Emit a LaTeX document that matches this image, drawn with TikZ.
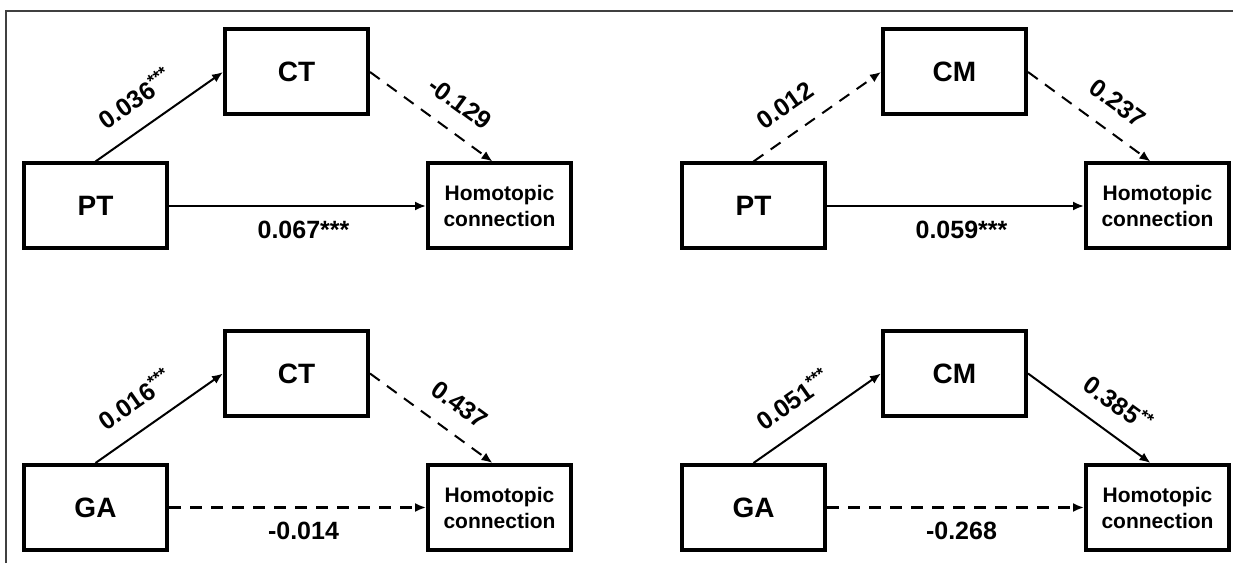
\documentclass[tikz,border=0pt]{standalone}
\usepackage{fontspec}
\setmainfont{Liberation Sans}
\usetikzlibrary{positioning}
\usetikzlibrary{arrows.meta}
\tikzset{basic/.style={draw,line width=2pt,minimum width=71.5pt,minimum height=42.5pt,inner sep=0pt,font=\fontsize{14}{16}\selectfont\bfseries}}
\tikzset{outcome/.style={basic,align=center,font=\fontsize{10.5}{13}\selectfont\bfseries}}
\tikzset{effect/.style={draw,line width=1pt,-{Latex[length=5.5pt,width=4.5pt]}}}
\tikzset{weakeffect/.style={effect,dash pattern=on 6pt off 4.5pt}}
\tikzset{coef/.style={font=\fontsize{12.5}{14}\selectfont\bfseries,inner sep=2pt}}

\begin{document}
\begin{tikzpicture}[x=0.5pt,y=0.5pt]
        \useasboundingbox (0,0) rectangle (1233,563);
        \draw[black!75,line width=0.6pt] (6,0) -- (6,552) -- (1233,552);
        % PT -> CT
        \node[basic] (pt1) at (95.5,357) {PT};
        \node[basic,above right=22.5pt and 27pt of pt1] (ct1) {CT};
        \node[outcome,right=128.5pt of pt1] (hc1) {Homotopic\\connection};
            \path[effect] (pt1.north) -- (ct1.west) node[coef,sloped,pos=0.14,above=7pt,anchor=south west] {0.036\textsuperscript{***}};
            \path[weakeffect] (ct1.east) -- ([xshift=-3.5pt]hc1.north) node[coef,sloped,pos=0.6,above=7pt] {-0.129};
            \path[effect] (pt1) -- (hc1) node[coef,midway,below=5pt,xshift=3pt] {0.067***};
        % PT -> CM
        \node[basic] (pt2) at (753.5,357) {PT};
        \node[basic,above right=22.5pt and 27pt of pt2] (cm2) {CM};
        \node[outcome,right=128.5pt of pt2] (hc2) {Homotopic\\connection};
            \path[weakeffect] (pt2.north) -- (cm2.west) node[coef,sloped,pos=0.14,above=7pt,anchor=south west] {0.012};
            \path[weakeffect] (cm2.east) -- ([xshift=-3.5pt]hc2.north) node[coef,sloped,pos=0.6,above=7pt] {0.237};
            \path[effect] (pt2) -- (hc2) node[coef,midway,below=5pt,xshift=3pt] {0.059***};
        % GA -> CT
        \node[basic] (ga3) at (95.5,55.5) {GA};
        \node[basic,above right=22.5pt and 27pt of ga3] (ct3) {CT};
        \node[outcome,right=128.5pt of ga3] (hc3) {Homotopic\\connection};
            \path[effect] (ga3.north) -- (ct3.west) node[coef,sloped,pos=0.14,above=7pt,anchor=south west] {0.016\textsuperscript{***}};
            \path[weakeffect] (ct3.east) -- ([xshift=-3.5pt]hc3.north) node[coef,sloped,pos=0.6,above=7pt] {0.437};
            \path[weakeffect] (ga3) -- (hc3) node[coef,midway,below=5pt,xshift=3pt] {-0.014};
        % GA -> CM
        \node[basic] (ga4) at (753.5,55.5) {GA};
        \node[basic,above right=22.5pt and 27pt of ga4] (cm4) {CM};
        \node[outcome,right=128.5pt of ga4] (hc4) {Homotopic\\connection};
            \path[effect] (ga4.north) -- (cm4.west) node[coef,sloped,pos=0.14,above=7pt,anchor=south west] {0.051\textsuperscript{***}};
            \path[effect] (cm4.east) -- ([xshift=-3.5pt]hc4.north) node[coef,sloped,pos=0.6,above=7pt] {0.385\textsuperscript{**}};
            \path[weakeffect] (ga4) -- (hc4) node[coef,midway,below=5pt,xshift=3pt] {-0.268};
\end{tikzpicture}
\end{document}
